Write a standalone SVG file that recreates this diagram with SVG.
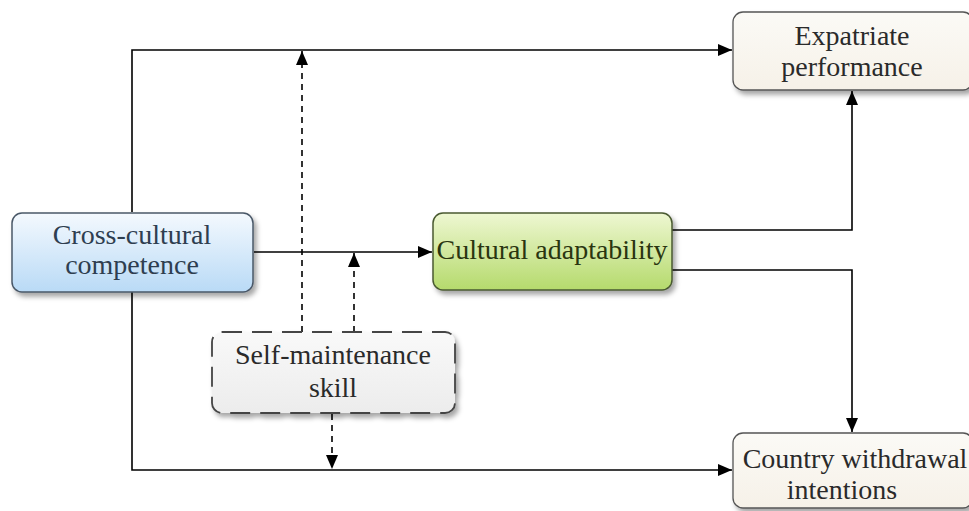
<svg xmlns="http://www.w3.org/2000/svg" width="969" height="511" viewBox="0 0 969 511">
<style>
.t{font-family:'Liberation Serif','Times New Roman',serif;font-size:28px;text-anchor:middle}
.ln{fill:none;stroke:#000;stroke-width:1.6}
.dl{fill:none;stroke:#000;stroke-width:1.6;stroke-dasharray:6 5}
</style>
<defs>
<linearGradient id="gBlue" x1="0" y1="0" x2="0" y2="1"><stop offset="0" stop-color="#f4f9fe"/><stop offset="1" stop-color="#b9daf6"/></linearGradient>
<linearGradient id="gGreen" x1="0" y1="0" x2="0" y2="1"><stop offset="0" stop-color="#eef7d2"/><stop offset="1" stop-color="#b5da6c"/></linearGradient>
<linearGradient id="gGray" x1="0" y1="0" x2="0" y2="1"><stop offset="0" stop-color="#f9f9f9"/><stop offset="1" stop-color="#ececec"/></linearGradient>
<linearGradient id="gCream" x1="0" y1="0" x2="0" y2="1"><stop offset="0" stop-color="#fbfaf6"/><stop offset="1" stop-color="#f6f1e8"/></linearGradient>
<filter id="sh" x="-10%" y="-10%" width="125%" height="130%"><feDropShadow dx="3" dy="4" stdDeviation="2.5" flood-color="#000" flood-opacity="0.35"/></filter>
<marker id="ar" markerWidth="14" markerHeight="12" refX="14" refY="6" orient="auto" markerUnits="userSpaceOnUse"><path d="M0,0 L14,6 L0,12 Z" fill="#000"/></marker>
</defs>
<g id="connectors">
<polyline class="ln" points="132,212 132,50 732,50" marker-end="url(#ar)"/>
<polyline class="ln" points="132,292 132,470 732,470" marker-end="url(#ar)"/>
<line class="ln" x1="254" y1="252" x2="432" y2="252" marker-end="url(#ar)"/>
<polyline class="ln" points="672,230 852,230 852,91" marker-end="url(#ar)"/>
<polyline class="ln" points="672,270 852,270 852,432" marker-end="url(#ar)"/>
<line class="dl" x1="302" y1="332" x2="302" y2="51" marker-end="url(#ar)"/>
<line class="dl" x1="354" y1="332" x2="354" y2="253" marker-end="url(#ar)"/>
<line class="dl" x1="332" y1="414" x2="332" y2="469" marker-end="url(#ar)"/>
</g>
<g id="cross-cultural">
<rect x="12" y="213" width="241" height="79" rx="10" fill="url(#gBlue)" stroke="#4a5868" stroke-width="1.5" filter="url(#sh)"/>
<text class="t" x="132" y="244" fill="#2e3e50">Cross-cultural</text>
<text class="t" x="132" y="274" fill="#2e3e50">competence</text>
</g>
<g id="cultural-adaptability">
<rect x="433" y="213" width="239" height="77" rx="10" fill="url(#gGreen)" stroke="#4a5a30" stroke-width="1.5" filter="url(#sh)"/>
<text class="t" x="552" y="259" fill="#2a3510">Cultural adaptability</text>
</g>
<g id="self-maintenance">
<rect x="212" y="332" width="243" height="81" rx="10" fill="url(#gGray)" stroke="#444" stroke-width="1.8" stroke-dasharray="20 10" filter="url(#sh)"/>
<text class="t" x="333" y="364" fill="#2a2a2a">Self-maintenance</text>
<text class="t" x="333" y="397" fill="#2a2a2a">skill</text>
</g>
<g id="expatriate-performance">
<rect x="733" y="12" width="240" height="78" rx="10" fill="url(#gCream)" stroke="#555" stroke-width="1.3" filter="url(#sh)"/>
<text class="t" x="852" y="45" fill="#2a2a2a">Expatriate</text>
<text class="t" x="852" y="76" fill="#2a2a2a">performance</text>
</g>
<g id="country-withdrawal">
<rect x="733" y="433" width="240" height="75" rx="10" fill="url(#gCream)" stroke="#555" stroke-width="1.3" filter="url(#sh)"/>
<text class="t" x="855" y="468" fill="#2a2a2a">Country withdrawal</text>
<text class="t" x="842" y="499" fill="#2a2a2a">intentions</text>
</g>
</svg>
